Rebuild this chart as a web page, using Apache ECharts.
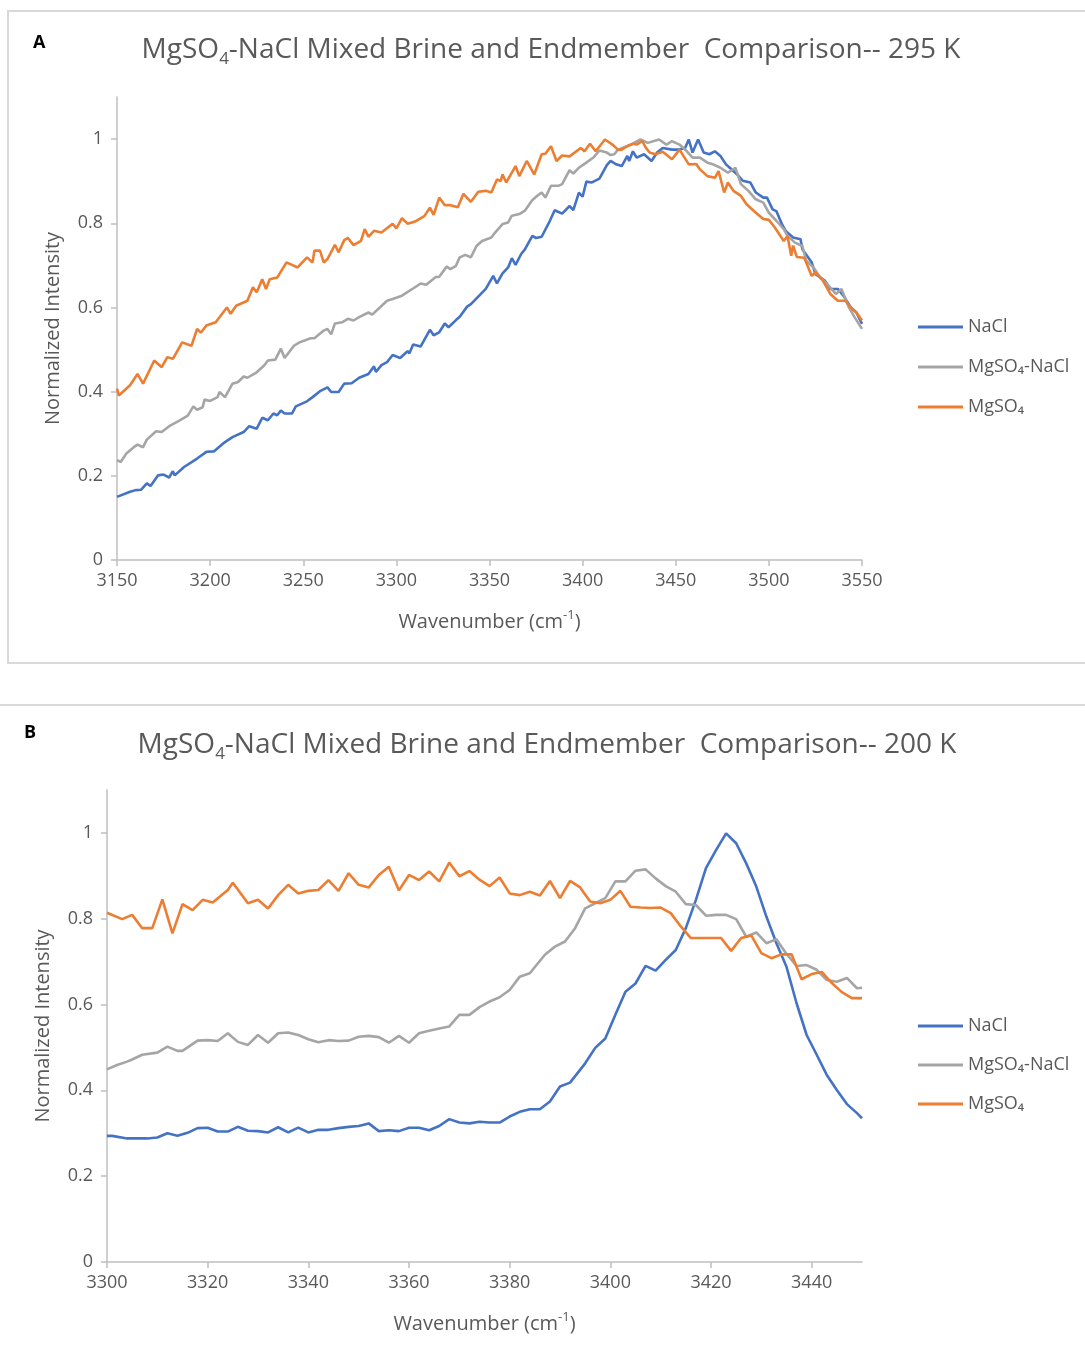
<!DOCTYPE html>
<html>
<head>
<meta charset="utf-8">
<script src="https://cdn.jsdelivr.net/npm/echarts@6/dist/echarts.min.js"></script>
<style>
html,body{margin:0;padding:0;background:#fff;}
#chart{width:1085px;height:1358px;}
</style>
</head>
<body>
<div id="chart"></div>
<script>
// ---------- DATA ----------
const seriesNames = ['NaCl', 'MgSO₄-NaCl', 'MgSO₄'];
const colors = ['#4472c4', '#a5a5a5', '#ed7d31'];

// Panel A, 295 K: [wavenumber, normalized intensity]
const naclA = [[3150,0.150],[3151,0.148],[3157,0.162],[3160,0.166],[3163,0.167],[3166,0.182],[3168,0.176],[3172,0.201],[3175,0.203],[3178,0.196],[3180,0.211],[3181,0.201],[3186,0.221],[3193,0.241],[3198,0.257],[3202,0.258],[3207,0.277],[3212,0.292],[3218,0.304],[3221,0.318],[3225,0.312],[3228,0.338],[3231,0.332],[3234,0.348],[3236,0.344],[3238,0.355],[3240,0.348],[3244,0.348],[3246,0.365],[3252,0.377],[3255,0.387],[3259,0.401],[3263,0.410],[3265,0.399],[3269,0.399],[3272,0.419],[3276,0.420],[3280,0.433],[3285,0.442],[3288,0.460],[3289,0.447],[3292,0.463],[3295,0.470],[3298,0.487],[3302,0.480],[3306,0.496],[3307,0.491],[3309,0.512],[3313,0.507],[3318,0.547],[3320,0.534],[3323,0.541],[3326,0.562],[3328,0.553],[3332,0.570],[3334,0.578],[3338,0.602],[3340,0.608],[3342,0.617],[3348,0.644],[3352,0.675],[3354,0.657],[3357,0.681],[3360,0.695],[3362,0.717],[3364,0.701],[3367,0.727],[3369,0.738],[3373,0.770],[3375,0.765],[3378,0.768],[3382,0.802],[3385,0.831],[3389,0.823],[3393,0.841],[3395,0.831],[3398,0.873],[3400,0.863],[3402,0.899],[3405,0.897],[3409,0.906],[3413,0.938],[3415,0.948],[3418,0.940],[3421,0.936],[3424,0.960],[3425,0.948],[3427,0.971],[3429,0.956],[3433,0.964],[3437,0.948],[3440,0.968],[3443,0.979],[3448,0.975],[3452,0.975],[3455,0.979],[3457,0.999],[3459,0.968],[3462,0.999],[3465,0.968],[3468,0.964],[3471,0.971],[3474,0.960],[3477,0.940],[3479,0.932],[3483,0.916],[3486,0.901],[3490,0.897],[3493,0.873],[3497,0.861],[3499,0.861],[3502,0.833],[3504,0.829],[3507,0.798],[3509,0.782],[3513,0.766],[3517,0.762],[3518,0.738],[3523,0.707],[3525,0.679],[3530,0.664],[3533,0.644],[3537,0.644],[3540,0.628],[3544,0.600],[3547,0.588],[3550,0.561]];

const mixA = [[3150,0.237],[3152,0.233],[3155,0.253],[3159,0.268],[3161,0.274],[3164,0.268],[3166,0.286],[3171,0.306],[3174,0.304],[3178,0.318],[3183,0.330],[3188,0.343],[3191,0.365],[3193,0.357],[3196,0.363],[3197,0.381],[3200,0.378],[3204,0.387],[3205,0.399],[3208,0.387],[3212,0.419],[3215,0.423],[3218,0.436],[3220,0.433],[3225,0.446],[3229,0.462],[3231,0.474],[3235,0.476],[3238,0.502],[3240,0.480],[3245,0.509],[3248,0.517],[3254,0.527],[3256,0.527],[3261,0.545],[3263,0.549],[3265,0.536],[3267,0.562],[3271,0.565],[3274,0.573],[3277,0.569],[3280,0.577],[3285,0.588],[3287,0.583],[3295,0.616],[3298,0.620],[3303,0.628],[3310,0.648],[3313,0.657],[3316,0.654],[3321,0.672],[3323,0.673],[3327,0.697],[3329,0.691],[3332,0.699],[3334,0.719],[3337,0.725],[3340,0.719],[3343,0.746],[3346,0.758],[3351,0.766],[3353,0.778],[3357,0.798],[3360,0.802],[3362,0.818],[3366,0.822],[3369,0.830],[3373,0.855],[3375,0.863],[3378,0.873],[3380,0.861],[3383,0.889],[3387,0.889],[3389,0.893],[3393,0.926],[3395,0.918],[3398,0.932],[3401,0.941],[3406,0.957],[3409,0.973],[3413,0.968],[3415,0.962],[3417,0.964],[3419,0.975],[3426,0.987],[3431,0.999],[3435,0.991],[3441,0.999],[3445,0.987],[3448,0.995],[3452,0.987],[3456,0.971],[3459,0.956],[3463,0.956],[3467,0.944],[3470,0.940],[3474,0.932],[3478,0.920],[3482,0.932],[3485,0.893],[3489,0.877],[3493,0.857],[3497,0.849],[3500,0.825],[3504,0.806],[3508,0.786],[3510,0.770],[3514,0.754],[3518,0.746],[3520,0.711],[3524,0.695],[3527,0.675],[3532,0.652],[3536,0.632],[3539,0.644],[3543,0.600],[3546,0.577],[3550,0.549]];

const mgso4A = [[3150,0.407],[3151,0.391],[3157,0.415],[3161,0.442],[3164,0.419],[3170,0.474],[3174,0.458],[3177,0.482],[3180,0.478],[3185,0.517],[3190,0.509],[3193,0.549],[3195,0.540],[3198,0.557],[3203,0.565],[3209,0.600],[3211,0.585],[3214,0.604],[3220,0.616],[3223,0.648],[3225,0.636],[3228,0.667],[3230,0.644],[3232,0.667],[3236,0.671],[3241,0.707],[3247,0.695],[3252,0.719],[3255,0.707],[3256,0.735],[3259,0.735],[3261,0.707],[3263,0.715],[3267,0.749],[3269,0.731],[3272,0.760],[3274,0.765],[3277,0.748],[3281,0.758],[3283,0.786],[3285,0.768],[3288,0.782],[3292,0.778],[3298,0.799],[3300,0.788],[3303,0.812],[3306,0.799],[3310,0.804],[3315,0.817],[3318,0.837],[3320,0.820],[3323,0.861],[3326,0.843],[3329,0.843],[3333,0.838],[3336,0.870],[3340,0.851],[3344,0.875],[3348,0.877],[3351,0.873],[3354,0.904],[3356,0.900],[3357,0.916],[3359,0.897],[3364,0.936],[3366,0.912],[3370,0.948],[3374,0.916],[3378,0.964],[3380,0.965],[3383,0.983],[3386,0.948],[3389,0.961],[3393,0.959],[3399,0.979],[3401,0.971],[3404,0.989],[3407,0.971],[3412,0.999],[3416,0.987],[3419,0.975],[3421,0.975],[3424,0.983],[3427,0.989],[3429,0.987],[3432,0.995],[3434,0.979],[3436,0.968],[3439,0.964],[3443,0.970],[3448,0.952],[3452,0.975],[3457,0.940],[3461,0.941],[3463,0.928],[3467,0.912],[3471,0.908],[3473,0.924],[3476,0.873],[3478,0.897],[3481,0.877],[3485,0.865],[3488,0.845],[3493,0.825],[3497,0.810],[3500,0.808],[3503,0.791],[3508,0.758],[3510,0.770],[3512,0.723],[3513,0.747],[3515,0.720],[3519,0.718],[3523,0.675],[3525,0.683],[3529,0.664],[3533,0.632],[3537,0.616],[3541,0.616],[3544,0.600],[3547,0.588],[3550,0.569]];

// Panel B, 200 K
const naclB = [[3300,0.294],[3301,0.294],[3304,0.288],[3306,0.288],[3308,0.288],[3310,0.290],[3312,0.300],[3314,0.294],[3316,0.301],[3318,0.312],[3320,0.313],[3322,0.304],[3324,0.304],[3326,0.315],[3328,0.306],[3330,0.305],[3332,0.302],[3334,0.314],[3336,0.302],[3338,0.313],[3340,0.302],[3342,0.308],[3344,0.308],[3346,0.312],[3348,0.315],[3350,0.317],[3352,0.323],[3354,0.305],[3356,0.307],[3358,0.305],[3360,0.313],[3362,0.313],[3364,0.307],[3366,0.317],[3368,0.333],[3370,0.325],[3372,0.323],[3374,0.327],[3376,0.325],[3378,0.325],[3380,0.339],[3382,0.350],[3384,0.356],[3386,0.356],[3388,0.374],[3390,0.409],[3392,0.418],[3395,0.463],[3397,0.499],[3399,0.521],[3401,0.576],[3403,0.630],[3405,0.649],[3407,0.690],[3409,0.679],[3411,0.704],[3413,0.727],[3415,0.778],[3417,0.844],[3419,0.918],[3421,0.960],[3423,0.999],[3425,0.976],[3427,0.929],[3429,0.875],[3431,0.805],[3433,0.743],[3435,0.688],[3437,0.603],[3439,0.529],[3441,0.483],[3443,0.436],[3445,0.401],[3447,0.368],[3449,0.347],[3450,0.335]];

const mixB = [[3300,0.449],[3302,0.459],[3304,0.467],[3305,0.472],[3307,0.483],[3310,0.488],[3312,0.502],[3314,0.492],[3315,0.492],[3318,0.516],[3320,0.517],[3322,0.515],[3324,0.533],[3326,0.513],[3328,0.506],[3330,0.529],[3332,0.511],[3334,0.533],[3336,0.535],[3338,0.529],[3340,0.519],[3342,0.512],[3344,0.517],[3346,0.515],[3348,0.516],[3350,0.525],[3352,0.527],[3354,0.524],[3356,0.511],[3358,0.527],[3360,0.511],[3362,0.533],[3364,0.539],[3366,0.544],[3368,0.549],[3370,0.576],[3372,0.576],[3374,0.594],[3376,0.607],[3378,0.617],[3380,0.634],[3382,0.665],[3384,0.673],[3387,0.716],[3389,0.735],[3391,0.747],[3393,0.778],[3395,0.824],[3397,0.836],[3399,0.848],[3401,0.887],[3403,0.887],[3405,0.912],[3407,0.915],[3409,0.894],[3411,0.876],[3413,0.863],[3415,0.834],[3417,0.832],[3419,0.807],[3421,0.809],[3423,0.809],[3425,0.799],[3427,0.758],[3429,0.768],[3431,0.743],[3433,0.752],[3435,0.718],[3437,0.690],[3439,0.692],[3441,0.681],[3443,0.657],[3445,0.653],[3447,0.662],[3449,0.638],[3450,0.639]];

const mgso4B = [[3300,0.814],[3303,0.799],[3305,0.809],[3307,0.778],[3309,0.778],[3311,0.845],[3313,0.766],[3315,0.834],[3317,0.820],[3319,0.844],[3321,0.838],[3324,0.867],[3325,0.884],[3328,0.836],[3330,0.844],[3332,0.824],[3334,0.855],[3336,0.879],[3338,0.859],[3340,0.865],[3342,0.867],[3344,0.890],[3346,0.865],[3348,0.906],[3350,0.879],[3352,0.873],[3354,0.902],[3356,0.921],[3358,0.866],[3360,0.902],[3362,0.890],[3364,0.910],[3366,0.887],[3368,0.931],[3370,0.899],[3372,0.911],[3374,0.891],[3376,0.876],[3378,0.896],[3380,0.859],[3382,0.855],[3384,0.863],[3386,0.854],[3388,0.888],[3390,0.848],[3392,0.888],[3394,0.873],[3396,0.840],[3398,0.836],[3400,0.844],[3402,0.865],[3404,0.828],[3406,0.826],[3408,0.825],[3410,0.826],[3412,0.813],[3414,0.782],[3416,0.755],[3418,0.755],[3420,0.755],[3422,0.755],[3424,0.725],[3426,0.755],[3428,0.761],[3430,0.720],[3432,0.708],[3434,0.717],[3436,0.717],[3438,0.659],[3440,0.671],[3442,0.676],[3444,0.650],[3446,0.629],[3448,0.615],[3450,0.615]];

const yTickValues = [0, 0.2, 0.4, 0.6, 0.8, 1];
const xTickValuesA = [3150, 3200, 3250, 3300, 3350, 3400, 3450, 3500, 3550];
const xTickValuesB = [3300, 3320, 3340, 3360, 3380, 3400, 3420, 3440];
const titleA = ['MgSO', '4', '-NaCl Mixed Brine and Endmember  Comparison-- 295 K'];
const titleB = ['MgSO', '4', '-NaCl Mixed Brine and Endmember  Comparison-- 200 K'];
const xName = ['Wavenumber (cm', '-1', ')'];
const yName = 'Normalized Intensity';

// ---------- STYLE ----------
const FONT = '"Open Sans", "Noto Sans", sans-serif';
const TXT = '#595959';
const AX = '#bfbfbf';

function titleRich(t) { return '{a|' + t[0] + '}{s|' + t[1] + '}{a|' + t[2] + '}'; }
const titleRichStyle = {
  a: { fontSize: 28, fontWeight: 'normal', color: TXT, fontFamily: FONT, lineHeight: 36, verticalAlign: 'middle' },
  s: { fontSize: 17, fontWeight: 'normal', color: TXT, fontFamily: FONT, lineHeight: 16, verticalAlign: 'bottom' }
};
const xNameStr = '{a|' + xName[0] + '}{s|' + xName[1] + '}{a|' + xName[2] + '}';
const xNameStyle = {
  color: TXT, fontFamily: FONT, fontSize: 20,
  rich: {
    a: { fontSize: 20, color: TXT, fontFamily: FONT, lineHeight: 26, verticalAlign: 'middle' },
    s: { fontSize: 13, color: TXT, fontFamily: FONT, lineHeight: 13, verticalAlign: 'top' }
  }
};

function xAxisCfg(gi, min, max, interval, vals) {
  return {
    type: 'value', gridIndex: gi, min: min, max: max, interval: interval,
    name: xNameStr, nameLocation: 'middle', nameGap: 49, nameTextStyle: xNameStyle,
    axisLine: { show: true, lineStyle: { color: AX, width: 1.5 } },
    axisTick: { show: true, length: 6, lineStyle: { color: AX, width: 1.5 }, customValues: vals },
    axisLabel: { color: TXT, fontSize: 18, fontFamily: FONT, margin: 12, customValues: vals,
      formatter: v => String(v) },
    splitLine: { show: false }
  };
}
function yAxisCfg(gi) {
  return {
    type: 'value', gridIndex: gi, min: 0, max: 1.1,
    name: yName, nameLocation: 'middle', nameGap: 54,
    nameTextStyle: { color: TXT, fontSize: 20, fontFamily: FONT },
    axisLine: { show: true, lineStyle: { color: AX, width: 1.5 } },
    axisTick: { show: true, length: 6, lineStyle: { color: AX, width: 1.5 }, customValues: yTickValues },
    axisLabel: { color: TXT, fontSize: 18, fontFamily: FONT, margin: 14, customValues: yTickValues },
    splitLine: { show: false }
  };
}
function lineSeries(name, idx, data, gi) {
  return {
    type: 'line', name: name, xAxisIndex: gi, yAxisIndex: gi, data: data,
    showSymbol: false, symbol: 'none', smooth: false,
    lineStyle: { color: colors[idx], width: 2.6 }, itemStyle: { color: colors[idx] },
    animation: false
  };
}
function legendCfg(top, gap) {
  return {
    data: seriesNames.map(n => ({ name: n, icon: 'rect' })),
    orient: 'vertical', left: 918, top: top, padding: 0,
    itemWidth: 45, itemHeight: 3, itemGap: gap,
    textStyle: { color: TXT, fontSize: 18, fontFamily: FONT, lineHeight: 20 }
  };
}

const option = {
  backgroundColor: '#ffffff',
  animation: false,
  title: [
    { text: titleRich(titleA), left: 546, top: 27, textAlign: 'center', textStyle: { fontWeight: 'normal', rich: titleRichStyle } },
    { text: titleRich(titleB), left: 542, top: 722, textAlign: 'center', textStyle: { fontWeight: 'normal', rich: titleRichStyle } }
  ],
  legend: [legendCfg(317, 20), legendCfg(1016, 19)],
  grid: [
    { left: 117, top: 97, width: 745, height: 463 },
    { left: 107, top: 790, width: 755, height: 472 }
  ],
  xAxis: [xAxisCfg(0, 3150, 3550, 50, xTickValuesA), xAxisCfg(1, 3300, 3450, 20, xTickValuesB)],
  yAxis: [yAxisCfg(0), yAxisCfg(1)],
  series: [
    lineSeries(seriesNames[0], 0, naclA, 0),
    lineSeries(seriesNames[1], 1, mixA, 0),
    lineSeries(seriesNames[2], 2, mgso4A, 0),
    lineSeries(seriesNames[0], 0, naclB, 1),
    lineSeries(seriesNames[1], 1, mixB, 1),
    lineSeries(seriesNames[2], 2, mgso4B, 1)
  ],
  graphic: [
    { type: 'rect', shape: { x: 8, y: 11, width: 1090, height: 652 }, style: { fill: null, stroke: '#d9d9d9', lineWidth: 2 }, z: -1, silent: true },
    { type: 'line', shape: { x1: 0, y1: 705, x2: 1085, y2: 705 }, style: { stroke: '#d9d9d9', lineWidth: 2 }, z: -1, silent: true },
    { type: 'text', left: 33, top: 34, style: { text: 'A', fill: '#000', font: 'bold 18px ' + FONT } },
    { type: 'text', left: 24, top: 724, style: { text: 'B', fill: '#000', font: 'bold 18px ' + FONT } }
  ]
};

const chart = echarts.init(document.getElementById('chart'), null, { renderer: 'canvas' });
chart.setOption(option);
</script>
</body>
</html>
